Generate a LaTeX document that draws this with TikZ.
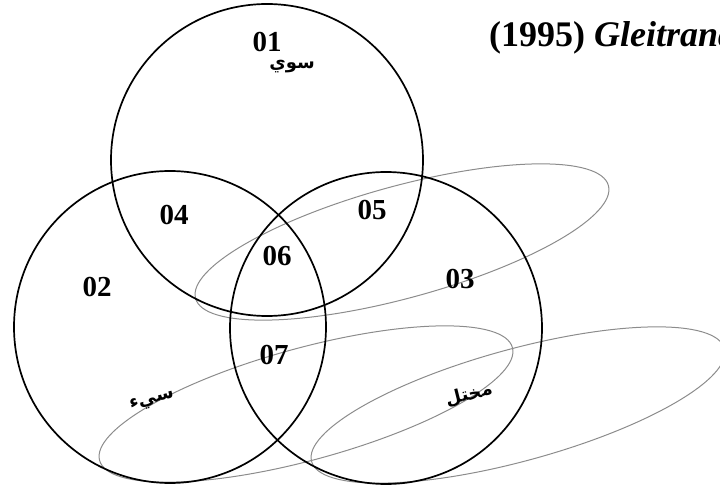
\documentclass[tikz,border=0pt]{standalone}
\usepackage{fontspec}
\setmainfont{Liberation Serif}
\newfontfamily\arabicfont[Script=Arabic]{DejaVu Sans}
\TeXXeTstate=1
\begin{document}
\begin{tikzpicture}[x=1pt,y=1pt,
  venn/.style={draw=black,line width=1.7pt},
  oval/.style={draw=black!45,line width=1pt},
  num/.style={inner sep=0pt,font=\fontsize{29}{29}\selectfont\bfseries},
  arab/.style={inner sep=0pt,font=\fontsize{18}{18}\selectfont\arabicfont\bfseries}]
\useasboundingbox (0,0) rectangle (720,487);
\clip (0,0) rectangle (720,487);
% gray ovals
\draw[oval,rotate around={15.3:(402,245)}] (402,245) ellipse [x radius=214,y radius=56];
\draw[oval,rotate around={15.3:(306,83)}] (306,83) ellipse [x radius=214,y radius=56];
\draw[oval,rotate around={15.3:(518,82)}] (518,82) ellipse [x radius=214,y radius=56];
% circles
\draw[venn] (267,327) circle (156);
\draw[venn] (170,160) circle (156);
\draw[venn] (386,159) circle (156);
% labels
\node[num] (n01) at (267,445) {01};
\node[arab] (sawi) at (292,420) {\beginR سوي\endR};
\node[num] (n04) at (174,272) {04};
\node[num] (n05) at (372,277) {05};
\node[num] (n06) at (277,231) {06};
\node[num] (n02) at (97,200) {02};
\node[num] (n03) at (460,208) {03};
\node[num] (n07) at (274,132) {07};
\node[arab,rotate=14] (sayi) at (152,86) {\beginR سيء\endR};
\node[arab,rotate=14] (mukh) at (469,92) {\beginR مختل\endR};
\node[anchor=base west,inner sep=0pt,font=\fontsize{36}{36}\selectfont\bfseries] (title) at (489,440) {(1995) \textit{Gleitrand}};
\end{tikzpicture}
\end{document}
